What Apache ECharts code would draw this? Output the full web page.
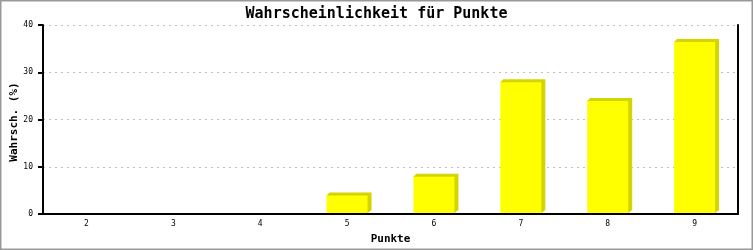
<!DOCTYPE html>
<html><head><meta charset="utf-8">
<script src="https://cdn.jsdelivr.net/npm/echarts@6/dist/echarts.min.js"></script>
<style>html,body{margin:0;padding:0;background:#fff}#c{width:753px;height:250px}</style>
</head><body><div id="c"></div>
<script>
var categories = ['2','3','4','5','6','7','8','9'];
var values = [0, 0, 0, 3.9, 7.9, 27.9, 23.9, 36.4];
var yTicks = [0, 10, 20, 30, 40];
var titleText = 'Wahrscheinlichkeit für Punkte';
var xTitle = 'Punkte';
var yTitle = 'Wahrsch. (%)';

var mono = 'DejaVu Sans Mono';
var chart = echarts.init(document.getElementById('c'), null, {renderer:'canvas'});
chart.setOption({
  animation: false,
  backgroundColor: '#fff',
  title: {text: titleText, left: 'center', top: 2, textStyle: {fontFamily: mono, fontSize: 15, fontWeight: 'bold', color: '#000'}},
  grid: {left: 43, right: 15, top: 25, bottom: 36, containLabel: false, outerBoundsMode: 'none'},
  xAxis: {
    type: 'category', data: categories, boundaryGap: true,
    axisLine: {show: true, lineStyle: {color: '#000', width: 2}},
    axisTick: {show: false},
    axisLabel: {fontFamily: mono, fontSize: 8, color: '#000', margin: 6},
    name: xTitle, nameLocation: 'middle', nameGap: 20,
    nameTextStyle: {fontFamily: mono, fontSize: 11, fontWeight: 'bold', color: '#000'}
  },
  yAxis: [{
    type: 'value', min: yTicks[0], max: yTicks[yTicks.length-1], interval: 10,
    axisLine: {show: true, lineStyle: {color: '#000', width: 2}},
    axisTick: {show: true, inside: false, length: 5, lineStyle: {color: '#000', width: 2}},
    axisLabel: {fontFamily: mono, fontSize: 8, color: '#000', margin: 10},
    splitLine: {show: true, lineStyle: {color: '#c0c0c0', type: [2, 4], width: 1}}
  }, {
    type: 'value', min: 0, max: 40, interval: 10, position: 'right',
    axisLine: {show: true, lineStyle: {color: '#000', width: 2}},
    axisTick: {show: false}, axisLabel: {show: false}, splitLine: {show: false}
  }],
  series: [{
    type: 'custom',
    data: values.map(function(v, i){ return [i, v]; }),
    renderItem: function(params, api) {
      var v = api.value(1);
      if (!v) return null;
      var top = api.coord([api.value(0), v]);
      var base = api.coord([api.value(0), 0]);
      var bw = 41;
      var x0 = top[0] - bw/2, x1 = top[0] + bw/2;
      var yt = top[1], yb = base[1] - 1;
      return {type: 'group', children: [
        {type: 'polygon', shape: {points: [[x0, yt], [x0+3, yt-3], [x1+4, yt-3], [x1+4, yb-3], [x1, yb]]},
         style: {fill: '#d4d400'}},
        {type: 'rect', shape: {x: x0, y: yt, width: bw, height: yb - yt}, style: {fill: '#ffff00'}}
      ]};
    }
  }],
  graphic: [
    {type: 'rect', shape: {x: 0.5, y: 0.5, width: 752, height: 249}, style: {fill: null, stroke: '#999', lineWidth: 2}, silent: true},
    {type: 'text', x: 14, y: 122, rotation: Math.PI/2, silent: true,
     style: {text: yTitle, fontFamily: mono, fontSize: 11, fontWeight: 'bold', fill: '#000', align: 'center', verticalAlign: 'middle'}}
  ]
});
</script></body></html>
